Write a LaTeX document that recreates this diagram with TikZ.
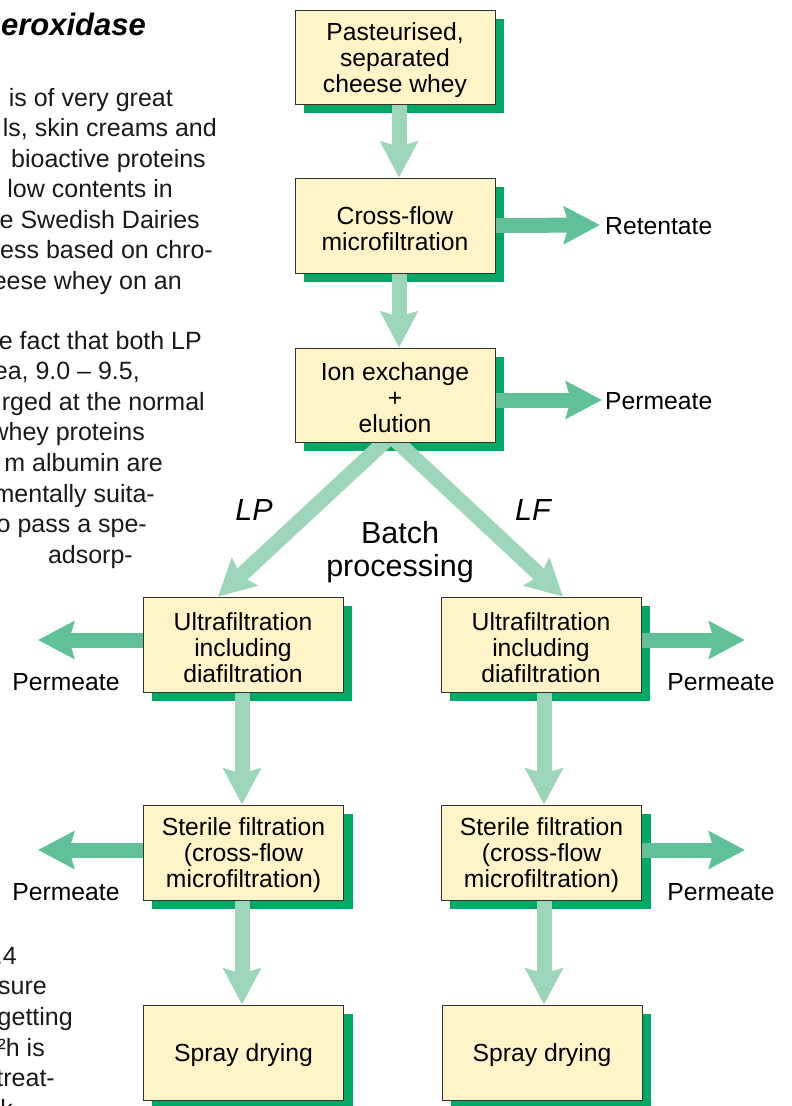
\documentclass[tikz,border=0pt]{standalone}
\usepackage{fontspec}
\setmainfont{Liberation Sans}
\usetikzlibrary{arrows.meta}
\definecolor{boxfill}{RGB}{255,243,200}
\definecolor{shadowgreen}{RGB}{0,168,101}
\definecolor{flowlight}{RGB}{157,213,186}
\definecolor{flowdark}{RGB}{96,193,152}
\definecolor{boxline}{RGB}{50,50,50}
\newcommand\bxfont{\fontsize{24.7}{26}\selectfont}
\newcommand\pgtxfont{\fontsize{25}{30}\selectfont}
\newcommand\bigtxfont{\fontsize{30.5}{33}\selectfont}
\newcommand\firstln{\rule{0pt}{24pt}}
\pgfdeclarelayer{shadowlayer}
\pgfdeclarelayer{arrowlayer}
\pgfsetlayers{shadowlayer,arrowlayer,main}
\begin{document}
\begin{tikzpicture}[x=1pt,y=-1pt,
  procbox/.style={draw=boxline, line width=0.8pt, fill=boxfill, minimum width=200pt,
    minimum height=95pt, inner sep=0pt, align=center, font=\bxfont},
  boxshadow/.style={fill=shadowgreen},
  flowv/.style={draw=flowlight, line width=15pt, -{Stealth[length=36pt,width=37pt,inset=5pt]}},
  flowh/.style={draw=flowdark, line width=15pt, -{Stealth[length=36pt,width=37pt,inset=5pt]}},
  pagetext/.style={inner sep=0pt, font=\pgtxfont, text=black!90},
  flowlabel/.style={inner sep=0pt, font=\bxfont},
  branchlabel/.style={inner sep=0pt, font=\bigtxfont\itshape}]
\useasboundingbox (0,0) rectangle (792,1106);
\clip (0,0) rectangle (792,1106);

% page text fragments on the left
\node[inner sep=0pt, anchor=base east, font=\fontsize{31}{31}\selectfont\bfseries\itshape] (head) at (146,35) {eroxidase};
\node[pagetext, anchor=base east] (l1) at (173,106) {is of very great};
\node[pagetext, anchor=base east] (l2) at (217,136.5) {ls, skin creams and};
\node[pagetext, anchor=base east] (l3) at (206,167) {bioactive proteins};
\node[pagetext, anchor=base east] (l4) at (173,197.5) {low contents in};
\node[pagetext, anchor=base east] (l5) at (200,228) {e Swedish Dairies};
\node[pagetext, anchor=base east] (l6) at (213,258.5) {ess based on chro-};
\node[pagetext, anchor=base east] (l7) at (182,289) {eese whey on an};
\node[pagetext, anchor=base east] (m1) at (202,349) {e fact that both LP};
\node[pagetext, anchor=base east] (m2) at (140,379.6) {ea, 9.0 – 9.5,};
\node[pagetext, anchor=base east] (m3) at (205,410.2) {rged at the normal};
\node[pagetext, anchor=base east] (m4) at (145,440.8) {whey proteins};
\node[pagetext, anchor=base east] (m5) at (163,471.4) {m albumin are};
\node[pagetext, anchor=base east] (m6) at (155,502) {mentally suita-};
\node[pagetext, anchor=base east] (m7) at (147,532.6) {o pass a spe-};
\node[pagetext, anchor=base east] (m8) at (133,563) {adsorp-};
\node[pagetext, anchor=base east] (n1) at (17,964) {.4};
\node[pagetext, anchor=base east] (n2) at (47,994.7) {sure};
\node[pagetext, anchor=base east] (n3) at (73,1025.4) {getting};
\node[pagetext, anchor=base east] (n4) at (45,1056) {²h is};
\node[pagetext, anchor=base east] (n5) at (55,1086.8) {treat-};
\node[pagetext, anchor=base east] (n6) at (13,1117.5) {k};

% process boxes
\node[procbox, minimum height=94pt] (b1) at (395,57) {\firstln Pasteurised,\\separated\\cheese whey};
\node[procbox] (b2) at (395,225.5) {\firstln Cross-flow\\microfiltration};
\node[procbox, minimum height=94pt] (b3) at (395,395) {\firstln Ion exchange\\+\\elution};
\node[procbox] (ufl) at (243,644.5) {\firstln Ultrafiltration\\including\\diafiltration};
\node[procbox] (ufr) at (541,644.5) {\firstln Ultrafiltration\\including\\diafiltration};
\node[procbox] (sfl) at (243.5,852.5) {\firstln Sterile filtration\\(cross-flow\\microfiltration)};
\node[procbox] (sfr) at (541.5,852.5) {\firstln Sterile filtration\\(cross-flow\\microfiltration)};
\node[procbox] (sdl) at (243.5,1052.5) {\firstln Spray drying};
\node[procbox] (sdr) at (542,1052.5) {\firstln Spray drying};

% shadows
\begin{pgfonlayer}{shadowlayer}
\foreach \b in {b1,b2,b3,ufl,ufr,sfl,sfr,sdl,sdr}{
  \fill[boxshadow] ([shift={(9,9)}]\b.south west) rectangle ([shift={(9,9)}]\b.north east);
}
\end{pgfonlayer}

% labels
\node[flowlabel, anchor=base west] (ret) at (605,234) {Retentate};
\node[flowlabel, anchor=base west] (perm1) at (605,409) {Permeate};
\node[flowlabel, anchor=base] (perm2) at (66,690) {Permeate};
\node[flowlabel, anchor=base] (perm3) at (721,690) {Permeate};
\node[flowlabel, anchor=base] (perm4) at (66,900) {Permeate};
\node[flowlabel, anchor=base] (perm5) at (721,900) {Permeate};
\node[branchlabel, anchor=base] (lp) at (254,520) {LP};
\node[branchlabel, anchor=base] (lf) at (533,520) {LF};
\node[inner sep=0pt, font=\bigtxfont, align=center, anchor=north] (batch) at (400,521) {Batch\\processing};

% arrow end points
\coordinate (t1) at (600,225);
\coordinate (t2) at (602,400);
\coordinate (t3) at (38,640);
\coordinate (t4) at (745,640);
\coordinate (t5) at (38,850);
\coordinate (t6) at (745,850);

% connectors
\begin{pgfonlayer}{arrowlayer}
\draw[flowv] ([xshift=4pt]b1.south) -- ([xshift=4pt]b2.north);
\draw[flowv] ([xshift=4pt]b2.south) -- ([xshift=4pt]b3.north);
\draw[flowh] (b2.east) -- (t1);
\draw[flowh] ([yshift=-5pt]b3.east) -- (t2);
\draw[flowv] ([shift={(2,-12)}]b3.south) -- ([xshift=-25pt]ufl.north);
\draw[flowv] ([shift={(-10,-12)}]b3.south) -- ([xshift=22pt]ufr.north);
\draw[flowh] ([yshift=4.5pt]ufl.west) -- (t3);
\draw[flowh] ([yshift=4.5pt]ufr.east) -- (t4);
\draw[flowh] ([yshift=2.5pt]sfl.west) -- (t5);
\draw[flowh] ([yshift=2.5pt]sfr.east) -- (t6);
\draw[flowv] ([xshift=-1pt]ufl.south) -- ([xshift=-1.5pt]sfl.north);
\draw[flowv] ([xshift=3pt]ufr.south) -- ([xshift=2.5pt]sfr.north);
\draw[flowv] ([xshift=-1.5pt]sfl.south) -- ([xshift=-1.5pt]sdl.north);
\draw[flowv] ([xshift=2.5pt]sfr.south) -- ([xshift=2pt]sdr.north);
\end{pgfonlayer}
\end{tikzpicture}
\end{document}
